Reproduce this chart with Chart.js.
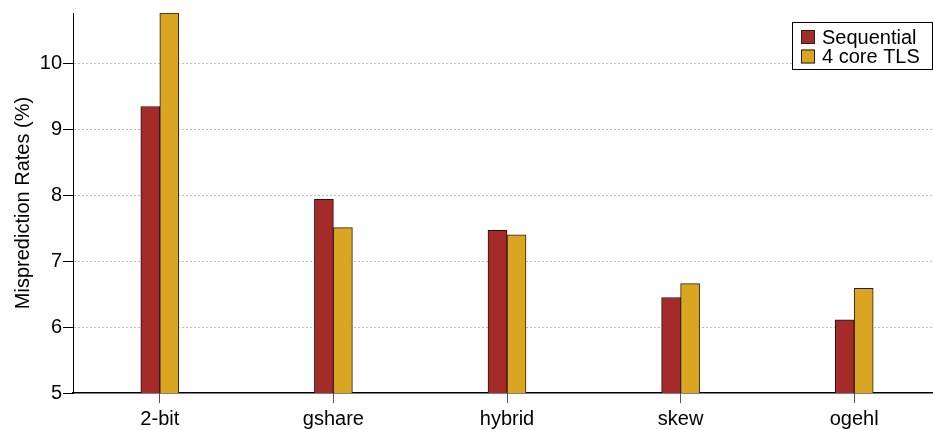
<!DOCTYPE html>
<html>
<head>
<meta charset="utf-8">
<script src="https://cdn.jsdelivr.net/npm/chart.js@4"></script>
<style>
  html, body { margin: 0; padding: 0; background: #fff; overflow: hidden; }
  #wrap { width: 941px; height: 430px; position: relative; }
</style>
</head>
<body>
<div id="wrap"><canvas id="c"></canvas></div>
<script>
const categories = ['2-bit', 'gshare', 'hybrid', 'skew', 'ogehl'];
const seriesNames = ['Sequential', '4 core TLS'];
const sequential = [9.35, 7.94, 7.47, 6.45, 6.11];
const tls4 = [10.77, 7.51, 7.40, 6.66, 6.59];
const yTicks = [5, 6, 7, 8, 9, 10];
const yTitle = 'Misprediction Rates (%)';

const FONT = "'Liberation Sans', Arial, sans-serif";

const boxLegend = {
  id: 'boxLegend',
  afterDraw(chart) {
    const ctx = chart.ctx;
    const x0 = 792, y0 = 22, w = 140, h = 47;
    ctx.save();
    ctx.fillStyle = '#fff';
    ctx.fillRect(x0, y0, w, h);
    ctx.strokeStyle = '#000';
    ctx.lineWidth = 1;
    ctx.strokeRect(x0 + 0.5, y0 + 0.5, w, h);
    ctx.font = '20px ' + FONT;
    ctx.textBaseline = 'middle';
    chart.data.datasets.forEach((ds, i) => {
      const cy = y0 + 15 + i * 19.5;
      ctx.fillStyle = ds.backgroundColor;
      ctx.fillRect(x0 + 9, cy - 7, 14, 14);
      ctx.strokeStyle = '#222';
      ctx.strokeRect(x0 + 9.5, cy - 6.5, 13, 13);
      ctx.fillStyle = '#000';
      ctx.fillText(ds.label, x0 + 30, cy + 1);
    });
    ctx.restore();
  }
};

new Chart(document.getElementById('c'), {
  type: 'bar',
  data: {
    labels: categories,
    datasets: [
      { label: seriesNames[0], data: sequential, backgroundColor: '#A52A2A', borderColor: '#2a1010', borderWidth: 1, barThickness: 19 },
      { label: seriesNames[1], data: tls4, backgroundColor: '#DAA520', borderColor: '#2a2010', borderWidth: 1, barThickness: 19 }
    ]
  },
  options: {
    responsive: true,
    maintainAspectRatio: false,
    animation: false,
    layout: { padding: { top: 12, right: 0, left: 0, bottom: 0 } },
    plugins: { legend: { display: false }, tooltip: { enabled: false } },
    scales: {
      x: {
        grid: { display: true, drawOnChartArea: false, drawTicks: true, offset: false, tickLength: 10, tickColor: '#555', tickWidth: 1 },
        border: { display: true, color: '#000', width: 1.5 },
        ticks: { color: '#000', font: { family: FONT, size: 20 }, padding: 4 },
        afterFit(s) { s.height = 37; }
      },
      y: {
        min: yTicks[0],
        max: 10.77,
        afterBuildTicks(s) { s.ticks = yTicks.map(v => ({ value: v })); },
        grid: {
          color: ctx => (ctx.tick && ctx.tick.value === yTicks[0]) ? 'rgba(0,0,0,0)' : '#bdbdbd',
          lineWidth: 1,
          drawTicks: true,
          tickLength: 10,
          tickColor: '#000',
          tickBorderDash: []
        },
        border: { display: true, color: '#000', width: 1, dash: [2, 2] },
        ticks: { color: '#000', font: { family: FONT, size: 20 }, padding: 1 },
        title: { display: true, text: yTitle, color: '#000', font: { family: FONT, size: 20 }, padding: { top: 11, bottom: 0 } },
        afterFit(s) { s.width = 73; }
      }
    }
  },
  plugins: [boxLegend]
});
</script>
</body>
</html>
